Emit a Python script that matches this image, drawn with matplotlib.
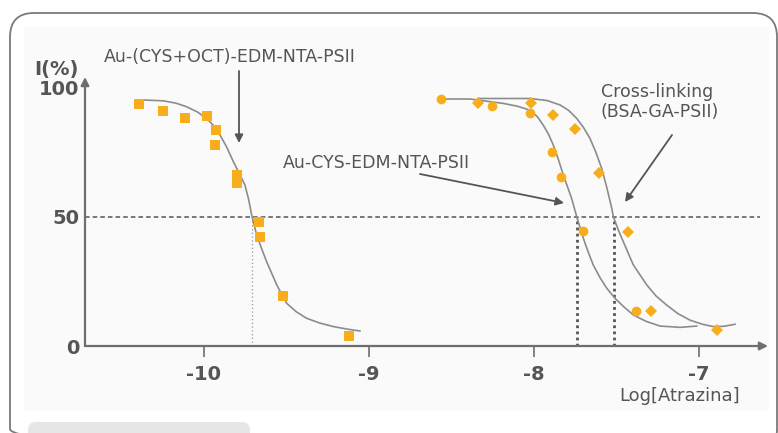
import matplotlib
matplotlib.use('Agg')
import matplotlib.pyplot as plt
from matplotlib.patches import FancyBboxPatch, Rectangle

# data: x = log[atrazine], y = inhibition %
sq_x = [-10.394, -10.250, -10.115, -9.984, -9.929, -9.933, -9.800, -9.800, -9.665, -9.659, -9.523, -9.121]
sq_y = [93.4, 90.9, 88.1, 88.7, 83.3, 77.6, 66.0, 62.9, 47.9, 42.1, 19.4, 4.0]

circ_x = [-8.565, -8.256, -8.024, -7.889, -7.836, -7.701, -7.381]
circ_y = [95.4, 92.8, 89.9, 74.8, 65.1, 44.5, 13.6]

dia_x = [-8.338, -8.020, -7.887, -7.752, -7.606, -7.428, -7.293, -6.893]
dia_y = [93.9, 93.9, 89.2, 83.7, 67.0, 43.9, 13.6, 6.2]

# fitted curves
sq_fit_x = [-10.358, -10.247, -10.170, -10.105, -10.040, -9.984, -9.940, -9.903, -9.862, -9.822,
            -9.785, -9.752, -9.730, -9.711, -9.681, -9.650, -9.620, -9.559, -9.499, -9.440,
            -9.378, -9.300, -9.216, -9.130, -9.055]
sq_fit_y = [95.0, 94.7, 93.8, 92.4, 90.4, 87.9, 85.0, 81.5, 76.8, 71.2,
            66.5, 62.2, 56.8, 50.6, 42.9, 37.5, 32.5, 23.6, 16.5, 13.2,
            10.7, 8.9, 7.5, 6.5, 5.8]

circ_fit_x = [-8.565, -8.388, -8.186, -8.100, -8.024, -7.980, -7.944, -7.912, -7.883, -7.852,
              -7.822, -7.772, -7.741, -7.701, -7.671, -7.641, -7.600, -7.559, -7.509, -7.450,
              -7.398, -7.320, -7.236, -7.115, -7.014]
circ_fit_y = [95.4, 95.4, 93.7, 92.6, 91.1, 88.6, 85.3, 81.8, 77.6, 72.0,
              66.0, 57.0, 49.9, 41.6, 36.2, 31.3, 26.4, 22.3, 18.4, 14.8,
              12.0, 9.5, 7.7, 7.2, 7.7]

dia_fit_x = [-8.338, -8.024, -7.920, -7.842, -7.790, -7.741, -7.700, -7.661, -7.625, -7.590,
             -7.560, -7.529, -7.519, -7.489, -7.459, -7.398, -7.317, -7.260, -7.196, -7.130,
             -7.055, -6.980, -6.913, -6.850, -6.782]
dia_fit_y = [95.6, 95.6, 94.8, 93.1, 91.0, 87.9, 84.4, 80.2, 74.8, 68.6,
             61.5, 53.2, 49.9, 44.8, 40.3, 31.3, 23.6, 19.3, 15.8, 12.6,
             10.0, 8.4, 7.5, 7.6, 8.4]

ic50 = [-9.709, -7.741, -7.514]
x_ticks = [-10, -9, -8, -7]
y_ticks = [0, 50, 100]

W, H = 778, 433
fig = plt.figure(figsize=(W / 100, H / 100), dpi=100)
fig.patch.set_facecolor('white')

# background layer in pixel coordinates
bg = fig.add_axes([0, 0, 1, 1])
bg.set_xlim(0, W)
bg.set_ylim(H, 0)
bg.axis('off')
bg.add_patch(Rectangle((24, 27), 745, 383, facecolor='#fafafa', edgecolor='none'))
bg.add_patch(FancyBboxPatch((10, 13), 767, 440, boxstyle='round,pad=0,rounding_size=24',
                            facecolor='none', edgecolor='#7a7a7a', linewidth=1.3))
bg.add_patch(FancyBboxPatch((28, 422), 222, 30, boxstyle='round,pad=0,rounding_size=8',
                            facecolor='#e6e6e6', edgecolor='none'))

left, right, bottom, top = 85, 768, 346, 77
ax = fig.add_axes([left / W, (H - bottom) / H, (right - left) / W, (bottom - top) / H])
ax.patch.set_alpha(0)
ax.set_xlim(-10.721, -6.582)
ax.set_ylim(0, 103.9)
for s in ax.spines.values():
    s.set_visible(False)

grey = '#6e6e6e'
orange = '#f8ae1a'

# axes with arrows
ax.annotate('', xy=(1.0, 0), xytext=(0, 0), xycoords='axes fraction',
            arrowprops=dict(arrowstyle='-|>', color=grey, lw=1.6, mutation_scale=12, shrinkA=0, shrinkB=0))
ax.annotate('', xy=(0, 1.0), xytext=(0, 0), xycoords='axes fraction',
            arrowprops=dict(arrowstyle='-|>', color=grey, lw=1.6, mutation_scale=12, shrinkA=0, shrinkB=0))

ax.set_xticks(x_ticks)
ax.set_xticklabels([str(t) for t in x_ticks])
ax.set_yticks(y_ticks)
ax.set_yticklabels([str(t) for t in y_ticks])
ax.tick_params(axis='x', direction='out', length=8, width=1.2, color=grey, pad=6)
ax.tick_params(axis='y', length=0, pad=4)
for lab in ax.get_xticklabels() + ax.get_yticklabels():
    lab.set_fontsize(14)
    lab.set_fontweight('bold')
    lab.set_color('#555555')

# reference lines
ax.plot([-10.721, -6.63], [50, 50], color='#555555', lw=1.1, ls=(0, (3, 2)), zorder=1)
ax.plot([ic50[0], ic50[0]], [0, 50], color='#999999', lw=0.9, ls=(0, (1, 2)), zorder=1)
for xv in ic50[1:]:
    ax.plot([xv, xv], [0, 50], color='#555555', lw=2.0, ls=(0, (1, 1.2)), zorder=1)

# curves
for fx, fy in [(sq_fit_x, sq_fit_y), (circ_fit_x, circ_fit_y), (dia_fit_x, dia_fit_y)]:
    ax.plot(fx, fy, color='#8c8c8c', lw=1.2, zorder=2, solid_joinstyle='round', antialiased=True)

# points
ax.plot(sq_x, sq_y, 's', color=orange, markersize=7, markeredgewidth=0, zorder=3, clip_on=False)
ax.plot(circ_x, circ_y, 'o', color=orange, markersize=7, markeredgewidth=0, zorder=3, clip_on=False)
ax.plot(dia_x, dia_y, 'D', color=orange, markersize=6.5, markeredgewidth=0, zorder=3, clip_on=False)

# texts and arrows (pixel coordinates on background layer)
tc = '#555555'
bg.text(56, 69, 'I(%)', fontsize=14, fontweight='bold', color=tc, ha='center', va='center')
bg.text(680, 396, 'Log[Atrazina]', fontsize=13, color=tc, ha='center', va='center')
bg.text(104, 57, 'Au-(CYS+OCT)-EDM-NTA-PSII', fontsize=12.5, color=tc, ha='left', va='center')
bg.text(283, 163, 'Au-CYS-EDM-NTA-PSII', fontsize=12.5, color=tc, ha='left', va='center')
bg.text(601, 92, 'Cross-linking', fontsize=12.5, color=tc, ha='left', va='center')
bg.text(601, 112, '(BSA-GA-PSII)', fontsize=12.5, color=tc, ha='left', va='center')

arr = dict(arrowstyle='-|>', color='#555555', lw=1.3, mutation_scale=12, shrinkA=0, shrinkB=0)
bg.annotate('', xy=(239, 143), xytext=(239, 71), arrowprops=arr)
bg.annotate('', xy=(564, 203), xytext=(420, 174), arrowprops=arr)
bg.annotate('', xy=(625, 202), xytext=(672, 135), arrowprops=arr)

fig.savefig('out.png', dpi=100)
